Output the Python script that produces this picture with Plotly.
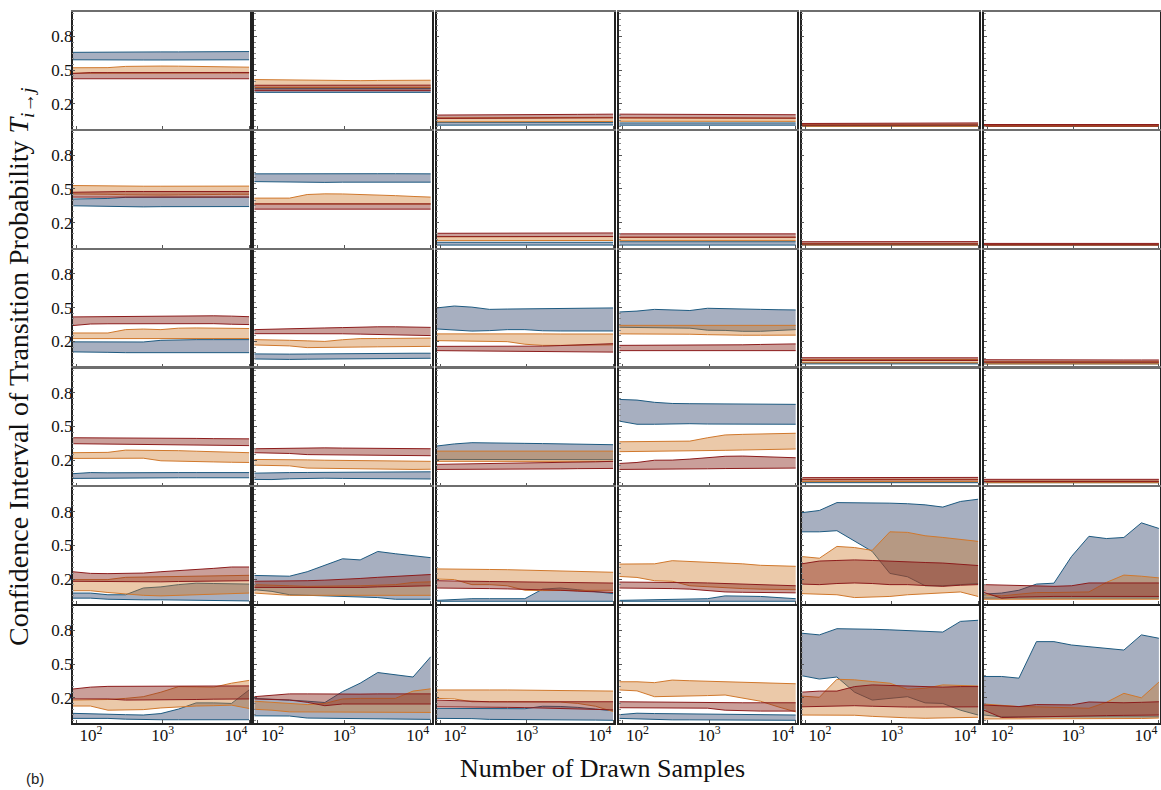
import plotly.graph_objects as go

# ---------------- data ----------------
N = [91, 146, 233, 373, 597, 955, 1528, 2443, 3908, 6252, 10000]
Y_TICKS = [0.2, 0.5, 0.8]
Y_TICK_TEXT = ["0.2", "0.5", "0.8"]
X_TICKS = [100, 1000, 10000]
X_TICK_TEXT = ["10<sup>2</sup>", "10<sup>3</sup>", "10<sup>4</sup>"]
# where the decade labels sit under each bottom panel (pulled inward as in the figure)
X_LABEL_AT = [148, 1000, 7070]
SERIES = ["blue", "orange", "red"]

# each panel: series -> (lower bound, upper bound)
R1C1 = {
    "blue": ([0.592, 0.590, 0.590, 0.590, 0.590, 0.590, 0.590, 0.590, 0.590, 0.591, 0.592],
             [0.658, 0.660, 0.662, 0.662, 0.662, 0.662, 0.662, 0.662, 0.663, 0.664, 0.665]),
    "orange": ([0.472, 0.472, 0.473, 0.474, 0.474, 0.474, 0.474, 0.474, 0.474, 0.474, 0.474],
               [0.521, 0.521, 0.522, 0.533, 0.536, 0.536, 0.535, 0.533, 0.531, 0.528, 0.526]),
    "red": ([0.423, 0.423, 0.423, 0.423, 0.423, 0.423, 0.423, 0.423, 0.423, 0.423, 0.423],
            [0.470, 0.478, 0.478, 0.479, 0.479, 0.479, 0.479, 0.479, 0.479, 0.479, 0.479]),
}
R1C2 = {
    "blue": ([0.302, 0.302, 0.302, 0.302, 0.302, 0.302, 0.302, 0.302, 0.302, 0.302, 0.302],
             [0.335, 0.335, 0.336, 0.336, 0.336, 0.336, 0.336, 0.336, 0.336, 0.336, 0.336]),
    "orange": ([0.345, 0.345, 0.345, 0.345, 0.345, 0.345, 0.345, 0.345, 0.345, 0.345, 0.345],
               [0.416, 0.414, 0.410, 0.406, 0.405, 0.405, 0.406, 0.408, 0.410, 0.410, 0.410]),
    "red": ([0.317, 0.317, 0.317, 0.317, 0.317, 0.317, 0.317, 0.317, 0.317, 0.317, 0.317],
            [0.365, 0.365, 0.366, 0.366, 0.366, 0.366, 0.366, 0.366, 0.366, 0.366, 0.366]),
}
R1C3 = {
    "blue": ([0.010, 0.010, 0.011, 0.011, 0.012, 0.012, 0.012, 0.012, 0.012, 0.012, 0.012],
             [0.035, 0.035, 0.034, 0.034, 0.034, 0.034, 0.035, 0.035, 0.035, 0.035, 0.035]),
    "orange": ([0.040, 0.040, 0.041, 0.041, 0.042, 0.042, 0.042, 0.043, 0.043, 0.043, 0.043],
               [0.075, 0.075, 0.076, 0.076, 0.077, 0.077, 0.078, 0.078, 0.078, 0.079, 0.079]),
    "red": ([0.070, 0.070, 0.071, 0.072, 0.072, 0.073, 0.073, 0.074, 0.074, 0.075, 0.075],
            [0.100, 0.100, 0.101, 0.102, 0.103, 0.104, 0.105, 0.106, 0.106, 0.107, 0.108]),
}
R1C4 = {
    "blue": ([0.010, 0.010, 0.010, 0.010, 0.010, 0.010, 0.010, 0.010, 0.010, 0.010, 0.010],
             [0.030, 0.030, 0.030, 0.030, 0.030, 0.030, 0.030, 0.030, 0.030, 0.030, 0.030]),
    "orange": ([0.045, 0.045, 0.045, 0.045, 0.045, 0.044, 0.044, 0.044, 0.044, 0.044, 0.044],
               [0.075, 0.075, 0.075, 0.075, 0.074, 0.074, 0.074, 0.074, 0.073, 0.073, 0.073]),
    "red": ([0.075, 0.075, 0.075, 0.074, 0.074, 0.074, 0.073, 0.073, 0.073, 0.072, 0.072],
            [0.108, 0.107, 0.107, 0.106, 0.106, 0.105, 0.105, 0.104, 0.104, 0.103, 0.103]),
}
R1C5 = {
    "blue": ([0.000, 0.000, 0.000, 0.000, 0.000, 0.000, 0.000, 0.000, 0.000, 0.000, 0.000],
             [0.008, 0.008, 0.008, 0.008, 0.008, 0.008, 0.008, 0.008, 0.008, 0.008, 0.008]),
    "orange": ([0.000, 0.000, 0.000, 0.000, 0.000, 0.000, 0.000, 0.000, 0.000, 0.000, 0.000],
               [0.018, 0.018, 0.018, 0.018, 0.018, 0.018, 0.018, 0.018, 0.018, 0.019, 0.019]),
    "red": ([0.010, 0.010, 0.010, 0.010, 0.010, 0.010, 0.010, 0.010, 0.011, 0.011, 0.011],
            [0.025, 0.025, 0.025, 0.026, 0.026, 0.026, 0.027, 0.027, 0.028, 0.029, 0.030]),
}
R1C6 = {
    "blue": ([0.000, 0.000, 0.000, 0.000, 0.000, 0.000, 0.000, 0.000, 0.000, 0.000, 0.000],
             [0.004, 0.004, 0.004, 0.004, 0.004, 0.004, 0.004, 0.004, 0.004, 0.004, 0.004]),
    "orange": ([0.000, 0.000, 0.000, 0.000, 0.000, 0.000, 0.000, 0.000, 0.000, 0.000, 0.000],
               [0.008, 0.008, 0.008, 0.008, 0.008, 0.008, 0.008, 0.008, 0.008, 0.008, 0.008]),
    "red": ([0.002, 0.002, 0.002, 0.002, 0.002, 0.002, 0.002, 0.002, 0.002, 0.002, 0.002],
            [0.016, 0.016, 0.016, 0.016, 0.016, 0.016, 0.016, 0.016, 0.016, 0.016, 0.016]),
}
R2C1 = {
    "blue": ([0.350, 0.346, 0.342, 0.340, 0.340, 0.342, 0.343, 0.343, 0.343, 0.343, 0.343],
             [0.410, 0.410, 0.415, 0.425, 0.427, 0.427, 0.427, 0.427, 0.427, 0.427, 0.427]),
    "orange": ([0.455, 0.455, 0.452, 0.448, 0.445, 0.445, 0.447, 0.450, 0.450, 0.452, 0.452],
               [0.530, 0.527, 0.525, 0.525, 0.524, 0.524, 0.524, 0.524, 0.525, 0.525, 0.525]),
    "red": ([0.427, 0.427, 0.427, 0.427, 0.427, 0.427, 0.427, 0.427, 0.427, 0.427, 0.427],
            [0.470, 0.474, 0.477, 0.477, 0.477, 0.477, 0.477, 0.477, 0.477, 0.477, 0.477]),
}
R2C2 = {
    "blue": ([0.565, 0.562, 0.560, 0.558, 0.558, 0.560, 0.560, 0.560, 0.560, 0.560, 0.560],
             [0.634, 0.635, 0.635, 0.635, 0.635, 0.635, 0.635, 0.635, 0.635, 0.635, 0.634]),
    "orange": ([0.365, 0.365, 0.365, 0.365, 0.365, 0.365, 0.365, 0.365, 0.365, 0.365, 0.365],
               [0.418, 0.418, 0.418, 0.450, 0.456, 0.455, 0.452, 0.448, 0.440, 0.433, 0.427]),
    "red": ([0.320, 0.320, 0.320, 0.320, 0.320, 0.320, 0.320, 0.320, 0.320, 0.320, 0.320],
            [0.367, 0.367, 0.367, 0.367, 0.367, 0.367, 0.367, 0.367, 0.367, 0.367, 0.367]),
}
R2C3 = {
    "blue": ([0.000, 0.000, 0.000, 0.000, 0.000, 0.000, 0.000, 0.000, 0.000, 0.000, 0.000],
             [0.025, 0.025, 0.025, 0.025, 0.025, 0.025, 0.025, 0.025, 0.025, 0.025, 0.025]),
    "orange": ([0.040, 0.040, 0.040, 0.041, 0.041, 0.041, 0.041, 0.041, 0.041, 0.041, 0.041],
               [0.075, 0.075, 0.075, 0.076, 0.076, 0.076, 0.076, 0.076, 0.076, 0.076, 0.076]),
    "red": ([0.075, 0.075, 0.075, 0.076, 0.076, 0.076, 0.076, 0.076, 0.076, 0.076, 0.076],
            [0.105, 0.105, 0.106, 0.106, 0.107, 0.107, 0.108, 0.108, 0.108, 0.108, 0.108]),
}
R2C4 = {
    "blue": ([0.000, 0.000, 0.000, 0.000, 0.000, 0.000, 0.000, 0.000, 0.000, 0.000, 0.000],
             [0.030, 0.030, 0.030, 0.030, 0.030, 0.030, 0.030, 0.030, 0.030, 0.030, 0.030]),
    "orange": ([0.040, 0.040, 0.040, 0.040, 0.040, 0.040, 0.040, 0.040, 0.040, 0.040, 0.040],
               [0.070, 0.070, 0.070, 0.070, 0.070, 0.070, 0.070, 0.070, 0.070, 0.070, 0.070]),
    "red": ([0.070, 0.070, 0.070, 0.070, 0.070, 0.070, 0.070, 0.070, 0.070, 0.070, 0.070],
            [0.100, 0.100, 0.100, 0.101, 0.101, 0.101, 0.101, 0.101, 0.101, 0.101, 0.100]),
}
R2C5 = {
    "blue": ([0.000, 0.000, 0.000, 0.000, 0.000, 0.000, 0.000, 0.000, 0.000, 0.000, 0.000],
             [0.005, 0.005, 0.005, 0.005, 0.005, 0.005, 0.005, 0.005, 0.005, 0.005, 0.005]),
    "orange": ([0.000, 0.000, 0.000, 0.000, 0.000, 0.000, 0.000, 0.000, 0.000, 0.000, 0.000],
               [0.015, 0.015, 0.015, 0.015, 0.015, 0.015, 0.015, 0.015, 0.015, 0.015, 0.015]),
    "red": ([0.010, 0.010, 0.010, 0.010, 0.010, 0.010, 0.010, 0.010, 0.010, 0.010, 0.010],
            [0.030, 0.030, 0.030, 0.030, 0.030, 0.030, 0.030, 0.030, 0.030, 0.031, 0.031]),
}
R2C6 = {
    "blue": ([0.000, 0.000, 0.000, 0.000, 0.000, 0.000, 0.000, 0.000, 0.000, 0.000, 0.000],
             [0.004, 0.004, 0.004, 0.004, 0.004, 0.004, 0.004, 0.004, 0.004, 0.004, 0.004]),
    "orange": ([0.000, 0.000, 0.000, 0.000, 0.000, 0.000, 0.000, 0.000, 0.000, 0.000, 0.000],
               [0.008, 0.008, 0.008, 0.008, 0.008, 0.008, 0.008, 0.008, 0.008, 0.008, 0.008]),
    "red": ([0.002, 0.002, 0.002, 0.002, 0.002, 0.002, 0.002, 0.002, 0.002, 0.002, 0.002],
            [0.015, 0.015, 0.015, 0.015, 0.015, 0.015, 0.015, 0.015, 0.015, 0.015, 0.015]),
}
R3C1 = {
    "blue": ([0.107, 0.107, 0.103, 0.100, 0.100, 0.102, 0.098, 0.098, 0.100, 0.100, 0.100],
             [0.196, 0.196, 0.195, 0.193, 0.195, 0.210, 0.215, 0.216, 0.216, 0.216, 0.216]),
    "orange": ([0.225, 0.225, 0.225, 0.225, 0.225, 0.226, 0.226, 0.226, 0.226, 0.226, 0.226],
               [0.275, 0.275, 0.275, 0.305, 0.310, 0.305, 0.318, 0.320, 0.320, 0.318, 0.315]),
    "red": ([0.341, 0.355, 0.357, 0.357, 0.357, 0.358, 0.358, 0.360, 0.358, 0.353, 0.350],
            [0.418, 0.420, 0.422, 0.423, 0.425, 0.428, 0.430, 0.430, 0.428, 0.425, 0.420]),
}
R3C2 = {
    "blue": ([0.044, 0.040, 0.040, 0.042, 0.043, 0.045, 0.046, 0.047, 0.048, 0.049, 0.050],
             [0.089, 0.085, 0.087, 0.088, 0.090, 0.091, 0.092, 0.093, 0.094, 0.095, 0.095]),
    "orange": ([0.169, 0.165, 0.160, 0.145, 0.145, 0.147, 0.150, 0.152, 0.154, 0.155, 0.156],
               [0.216, 0.215, 0.210, 0.205, 0.200, 0.215, 0.225, 0.226, 0.228, 0.230, 0.230]),
    "red": ([0.269, 0.270, 0.270, 0.270, 0.270, 0.268, 0.265, 0.262, 0.258, 0.255, 0.252],
            [0.305, 0.310, 0.315, 0.318, 0.320, 0.323, 0.328, 0.330, 0.330, 0.328, 0.325]),
}
R3C3 = {
    "blue": ([0.311, 0.300, 0.292, 0.296, 0.305, 0.305, 0.295, 0.293, 0.293, 0.293, 0.293],
             [0.498, 0.515, 0.505, 0.485, 0.488, 0.490, 0.495, 0.497, 0.498, 0.497, 0.498]),
    "orange": ([0.207, 0.205, 0.203, 0.200, 0.198, 0.175, 0.165, 0.165, 0.167, 0.168, 0.170],
               [0.267, 0.268, 0.268, 0.268, 0.268, 0.267, 0.267, 0.266, 0.266, 0.266, 0.266]),
    "red": ([0.118, 0.117, 0.115, 0.114, 0.112, 0.110, 0.108, 0.107, 0.106, 0.105, 0.105],
            [0.156, 0.156, 0.156, 0.156, 0.156, 0.157, 0.158, 0.163, 0.170, 0.176, 0.180]),
}
R3C4 = {
    "blue": ([0.326, 0.322, 0.320, 0.320, 0.318, 0.300, 0.298, 0.290, 0.290, 0.300, 0.305],
             [0.462, 0.470, 0.485, 0.478, 0.475, 0.495, 0.490, 0.485, 0.485, 0.482, 0.480]),
    "orange": ([0.267, 0.267, 0.266, 0.265, 0.264, 0.260, 0.256, 0.255, 0.255, 0.256, 0.256],
               [0.343, 0.343, 0.343, 0.343, 0.343, 0.343, 0.343, 0.343, 0.343, 0.343, 0.343]),
    "red": ([0.118, 0.118, 0.118, 0.118, 0.118, 0.118, 0.118, 0.118, 0.118, 0.118, 0.118],
            [0.165, 0.165, 0.165, 0.165, 0.165, 0.165, 0.167, 0.170, 0.173, 0.176, 0.178]),
}
R3C5 = {
    "blue": ([0.000, 0.000, 0.000, 0.000, 0.000, 0.000, 0.000, 0.000, 0.000, 0.000, 0.000],
             [0.010, 0.010, 0.010, 0.010, 0.010, 0.010, 0.010, 0.010, 0.010, 0.010, 0.010]),
    "orange": ([0.010, 0.010, 0.010, 0.010, 0.010, 0.010, 0.010, 0.010, 0.010, 0.010, 0.010],
               [0.040, 0.040, 0.040, 0.040, 0.040, 0.040, 0.040, 0.040, 0.040, 0.039, 0.039]),
    "red": ([0.030, 0.030, 0.030, 0.030, 0.030, 0.030, 0.030, 0.030, 0.030, 0.030, 0.030],
            [0.055, 0.055, 0.056, 0.056, 0.057, 0.057, 0.057, 0.057, 0.056, 0.055, 0.054]),
}
R3C6 = {
    "blue": ([0.000, 0.000, 0.000, 0.000, 0.000, 0.000, 0.000, 0.000, 0.000, 0.000, 0.000],
             [0.008, 0.008, 0.008, 0.008, 0.008, 0.008, 0.008, 0.008, 0.008, 0.008, 0.008]),
    "orange": ([0.000, 0.000, 0.000, 0.000, 0.000, 0.000, 0.000, 0.000, 0.000, 0.000, 0.000],
               [0.020, 0.020, 0.020, 0.020, 0.020, 0.020, 0.020, 0.020, 0.020, 0.020, 0.020]),
    "red": ([0.015, 0.015, 0.015, 0.015, 0.015, 0.015, 0.015, 0.015, 0.015, 0.015, 0.015],
            [0.037, 0.036, 0.035, 0.035, 0.035, 0.035, 0.035, 0.035, 0.035, 0.035, 0.035]),
}
R4C1 = {
    "blue": ([0.038, 0.040, 0.040, 0.042, 0.043, 0.044, 0.044, 0.044, 0.044, 0.044, 0.044],
             [0.080, 0.090, 0.088, 0.087, 0.090, 0.090, 0.090, 0.090, 0.090, 0.090, 0.090]),
    "orange": ([0.216, 0.216, 0.217, 0.218, 0.218, 0.195, 0.190, 0.188, 0.185, 0.182, 0.180],
               [0.267, 0.268, 0.270, 0.290, 0.290, 0.288, 0.285, 0.280, 0.275, 0.270, 0.267]),
    "red": ([0.347, 0.345, 0.342, 0.342, 0.342, 0.340, 0.338, 0.336, 0.334, 0.332, 0.330],
            [0.400, 0.400, 0.400, 0.400, 0.400, 0.398, 0.396, 0.394, 0.392, 0.390, 0.390]),
}
R4C2 = {
    "blue": ([0.029, 0.028, 0.035, 0.040, 0.040, 0.038, 0.036, 0.035, 0.034, 0.033, 0.033],
             [0.085, 0.090, 0.090, 0.091, 0.092, 0.093, 0.094, 0.095, 0.096, 0.097, 0.097]),
    "orange": ([0.156, 0.155, 0.150, 0.130, 0.128, 0.125, 0.120, 0.117, 0.117, 0.118, 0.120],
               [0.207, 0.207, 0.205, 0.203, 0.200, 0.198, 0.196, 0.194, 0.193, 0.192, 0.190]),
    "red": ([0.267, 0.265, 0.260, 0.250, 0.248, 0.246, 0.245, 0.244, 0.243, 0.242, 0.240],
            [0.302, 0.305, 0.310, 0.310, 0.310, 0.308, 0.306, 0.304, 0.302, 0.302, 0.302]),
}
R4C3 = {
    "blue": ([0.207, 0.207, 0.205, 0.205, 0.205, 0.205, 0.205, 0.205, 0.205, 0.205, 0.205],
             [0.326, 0.345, 0.356, 0.352, 0.350, 0.350, 0.348, 0.345, 0.342, 0.340, 0.338]),
    "orange": ([0.190, 0.190, 0.190, 0.190, 0.190, 0.190, 0.190, 0.190, 0.190, 0.190, 0.190],
               [0.281, 0.281, 0.282, 0.282, 0.282, 0.282, 0.282, 0.282, 0.281, 0.281, 0.281]),
    "red": ([0.118, 0.118, 0.118, 0.118, 0.118, 0.120, 0.122, 0.123, 0.125, 0.126, 0.127],
            [0.163, 0.165, 0.167, 0.170, 0.172, 0.175, 0.178, 0.180, 0.183, 0.186, 0.190]),
}
R4C4 = {
    "blue": ([0.548, 0.520, 0.520, 0.525, 0.525, 0.522, 0.522, 0.522, 0.522, 0.520, 0.520],
             [0.741, 0.735, 0.715, 0.705, 0.703, 0.702, 0.702, 0.700, 0.700, 0.700, 0.697]),
    "orange": ([0.276, 0.277, 0.278, 0.280, 0.282, 0.285, 0.288, 0.291, 0.294, 0.297, 0.300],
               [0.364, 0.365, 0.366, 0.368, 0.370, 0.400, 0.425, 0.430, 0.435, 0.438, 0.440]),
    "red": ([0.118, 0.118, 0.120, 0.120, 0.122, 0.124, 0.126, 0.127, 0.128, 0.129, 0.130],
            [0.171, 0.180, 0.200, 0.201, 0.210, 0.222, 0.235, 0.237, 0.232, 0.225, 0.222]),
}
R4C5 = {
    "blue": ([0.000, 0.000, 0.000, 0.000, 0.000, 0.000, 0.000, 0.000, 0.000, 0.000, 0.000],
             [0.008, 0.008, 0.008, 0.008, 0.008, 0.008, 0.008, 0.008, 0.008, 0.008, 0.008]),
    "orange": ([0.010, 0.010, 0.010, 0.010, 0.010, 0.010, 0.010, 0.010, 0.010, 0.010, 0.010],
               [0.030, 0.030, 0.030, 0.030, 0.030, 0.030, 0.030, 0.030, 0.030, 0.030, 0.030]),
    "red": ([0.025, 0.025, 0.025, 0.025, 0.025, 0.025, 0.025, 0.025, 0.025, 0.025, 0.025],
            [0.045, 0.045, 0.045, 0.046, 0.046, 0.046, 0.046, 0.046, 0.046, 0.046, 0.047]),
}
R4C6 = {
    "blue": ([0.000, 0.000, 0.000, 0.000, 0.000, 0.000, 0.000, 0.000, 0.000, 0.000, 0.000],
             [0.005, 0.005, 0.005, 0.005, 0.005, 0.005, 0.005, 0.005, 0.005, 0.005, 0.005]),
    "orange": ([0.000, 0.000, 0.000, 0.000, 0.000, 0.000, 0.000, 0.000, 0.000, 0.000, 0.000],
               [0.015, 0.015, 0.015, 0.015, 0.015, 0.015, 0.015, 0.015, 0.015, 0.015, 0.015]),
    "red": ([0.010, 0.010, 0.010, 0.010, 0.010, 0.010, 0.010, 0.010, 0.010, 0.010, 0.010],
            [0.030, 0.030, 0.030, 0.030, 0.030, 0.030, 0.030, 0.030, 0.030, 0.030, 0.030]),
}
R5C1 = {
    "blue": ([0.030, 0.030, 0.020, 0.015, 0.015, 0.015, 0.012, 0.010, 0.008, 0.005, 0.005],
             [0.075, 0.075, 0.060, 0.060, 0.120, 0.130, 0.150, 0.163, 0.160, 0.155, 0.155]),
    "orange": ([0.096, 0.096, 0.080, 0.065, 0.055, 0.050, 0.055, 0.060, 0.065, 0.070, 0.075],
               [0.195, 0.195, 0.195, 0.215, 0.218, 0.220, 0.225, 0.230, 0.232, 0.233, 0.233]),
    "red": ([0.180, 0.178, 0.175, 0.175, 0.175, 0.175, 0.178, 0.180, 0.182, 0.185, 0.185],
            [0.265, 0.250, 0.248, 0.250, 0.253, 0.265, 0.275, 0.280, 0.295, 0.307, 0.307]),
}
R5C2 = {
    "blue": ([0.105, 0.090, 0.060, 0.055, 0.055, 0.050, 0.045, 0.035, 0.020, 0.020, 0.020],
             [0.232, 0.230, 0.225, 0.265, 0.325, 0.380, 0.370, 0.445, 0.425, 0.410, 0.390]),
    "orange": ([0.075, 0.065, 0.055, 0.055, 0.055, 0.055, 0.055, 0.055, 0.055, 0.055, 0.055],
               [0.150, 0.148, 0.140, 0.135, 0.135, 0.138, 0.140, 0.145, 0.150, 0.170, 0.175]),
    "red": ([0.125, 0.125, 0.120, 0.120, 0.120, 0.122, 0.125, 0.130, 0.133, 0.137, 0.140],
            [0.180, 0.180, 0.182, 0.185, 0.190, 0.195, 0.205, 0.215, 0.225, 0.235, 0.240]),
}
R5C3 = {
    "blue": ([0.002, 0.002, 0.002, 0.002, 0.002, 0.002, 0.002, 0.002, 0.002, 0.002, 0.002],
             [0.010, 0.020, 0.025, 0.025, 0.025, 0.025, 0.110, 0.120, 0.105, 0.085, 0.070]),
    "orange": ([0.200, 0.195, 0.150, 0.150, 0.140, 0.100, 0.097, 0.097, 0.098, 0.100, 0.100],
               [0.290, 0.290, 0.288, 0.285, 0.283, 0.280, 0.275, 0.270, 0.265, 0.262, 0.260]),
    "red": ([0.120, 0.120, 0.118, 0.115, 0.112, 0.110, 0.105, 0.100, 0.092, 0.085, 0.080],
            [0.185, 0.185, 0.180, 0.178, 0.175, 0.172, 0.170, 0.168, 0.166, 0.165, 0.164]),
}
R5C4 = {
    "blue": ([0.002, 0.002, 0.002, 0.002, 0.002, 0.002, 0.002, 0.002, 0.002, 0.002, 0.002],
             [0.010, 0.012, 0.015, 0.018, 0.020, 0.025, 0.050, 0.050, 0.045, 0.035, 0.025]),
    "orange": ([0.223, 0.214, 0.185, 0.180, 0.140, 0.130, 0.120, 0.115, 0.110, 0.105, 0.105],
               [0.333, 0.333, 0.335, 0.363, 0.357, 0.352, 0.343, 0.335, 0.322, 0.318, 0.313]),
    "red": ([0.120, 0.120, 0.118, 0.115, 0.110, 0.100, 0.085, 0.082, 0.080, 0.078, 0.077],
            [0.173, 0.173, 0.172, 0.170, 0.168, 0.165, 0.160, 0.155, 0.150, 0.145, 0.140]),
}
R5C5 = {
    "blue": ([0.620, 0.620, 0.630, 0.535, 0.445, 0.250, 0.220, 0.140, 0.140, 0.150, 0.160],
             [0.790, 0.810, 0.880, 0.880, 0.875, 0.875, 0.870, 0.860, 0.840, 0.890, 0.910]),
    "orange": ([0.070, 0.065, 0.060, 0.035, 0.040, 0.045, 0.060, 0.070, 0.080, 0.085, 0.045],
               [0.400, 0.385, 0.490, 0.480, 0.455, 0.620, 0.615, 0.585, 0.570, 0.555, 0.535]),
    "red": ([0.155, 0.150, 0.160, 0.165, 0.160, 0.150, 0.150, 0.140, 0.135, 0.145, 0.150],
            [0.335, 0.360, 0.365, 0.370, 0.365, 0.357, 0.352, 0.347, 0.342, 0.330, 0.320]),
}
R5C6 = {
    "blue": ([0.030, 0.030, 0.030, 0.030, 0.030, 0.030, 0.028, 0.025, 0.025, 0.028, 0.030],
             [0.066, 0.075, 0.100, 0.155, 0.163, 0.400, 0.580, 0.560, 0.570, 0.700, 0.650]),
    "orange": ([0.020, 0.020, 0.020, 0.020, 0.020, 0.020, 0.020, 0.020, 0.020, 0.020, 0.020],
               [0.060, 0.050, 0.065, 0.080, 0.080, 0.080, 0.085, 0.170, 0.235, 0.225, 0.210]),
    "red": ([0.080, 0.030, 0.040, 0.045, 0.045, 0.045, 0.045, 0.045, 0.045, 0.045, 0.045],
            [0.150, 0.145, 0.140, 0.135, 0.135, 0.140, 0.165, 0.165, 0.165, 0.165, 0.165]),
}
R6C1 = {
    "blue": ([0.017, 0.017, 0.017, 0.010, 0.005, 0.005, 0.005, 0.005, 0.005, 0.005, 0.005],
             [0.062, 0.060, 0.055, 0.050, 0.047, 0.060, 0.100, 0.155, 0.155, 0.150, 0.270]),
    "orange": ([0.127, 0.127, 0.090, 0.093, 0.095, 0.110, 0.120, 0.127, 0.130, 0.135, 0.105],
               [0.180, 0.180, 0.185, 0.195, 0.210, 0.250, 0.300, 0.298, 0.295, 0.330, 0.355]),
    "red": ([0.190, 0.190, 0.190, 0.180, 0.180, 0.180, 0.182, 0.185, 0.188, 0.190, 0.190],
            [0.278, 0.295, 0.302, 0.303, 0.303, 0.303, 0.303, 0.303, 0.304, 0.305, 0.306]),
}
R6C2 = {
    "blue": ([0.040, 0.040, 0.038, 0.020, 0.018, 0.018, 0.020, 0.015, 0.010, 0.010, 0.008],
             [0.195, 0.190, 0.180, 0.170, 0.158, 0.255, 0.330, 0.425, 0.405, 0.385, 0.565]),
    "orange": ([0.098, 0.090, 0.075, 0.075, 0.075, 0.075, 0.075, 0.072, 0.072, 0.070, 0.070],
               [0.170, 0.160, 0.145, 0.140, 0.150, 0.190, 0.195, 0.195, 0.195, 0.260, 0.280]),
    "red": ([0.190, 0.185, 0.180, 0.160, 0.130, 0.145, 0.145, 0.145, 0.145, 0.145, 0.145],
            [0.210, 0.220, 0.235, 0.235, 0.233, 0.233, 0.233, 0.235, 0.235, 0.235, 0.235]),
}
R6C3 = {
    "blue": ([0.017, 0.017, 0.015, 0.008, 0.008, 0.006, 0.005, 0.004, 0.003, 0.002, 0.000],
             [0.106, 0.107, 0.106, 0.105, 0.104, 0.103, 0.125, 0.123, 0.115, 0.100, 0.085]),
    "orange": ([0.195, 0.190, 0.165, 0.165, 0.165, 0.165, 0.165, 0.162, 0.150, 0.125, 0.078],
               [0.270, 0.272, 0.272, 0.270, 0.270, 0.268, 0.267, 0.265, 0.263, 0.262, 0.260]),
    "red": ([0.120, 0.120, 0.118, 0.117, 0.115, 0.113, 0.110, 0.105, 0.100, 0.095, 0.093],
            [0.180, 0.175, 0.167, 0.165, 0.165, 0.165, 0.165, 0.165, 0.165, 0.165, 0.165]),
}
R6C4 = {
    "blue": ([0.017, 0.012, 0.006, 0.004, 0.004, 0.004, 0.004, 0.003, 0.002, 0.001, 0.000],
             [0.050, 0.063, 0.060, 0.058, 0.058, 0.056, 0.055, 0.053, 0.050, 0.048, 0.047]),
    "orange": ([0.270, 0.262, 0.210, 0.212, 0.215, 0.220, 0.225, 0.200, 0.170, 0.120, 0.075],
               [0.343, 0.343, 0.335, 0.358, 0.352, 0.348, 0.345, 0.340, 0.335, 0.330, 0.325]),
    "red": ([0.112, 0.112, 0.112, 0.110, 0.110, 0.108, 0.090, 0.083, 0.082, 0.082, 0.082],
            [0.165, 0.163, 0.160, 0.158, 0.157, 0.156, 0.156, 0.156, 0.156, 0.156, 0.156]),
}
R6C5 = {
    "blue": ([0.397, 0.367, 0.385, 0.250, 0.180, 0.195, 0.210, 0.155, 0.150, 0.090, 0.047],
             [0.775, 0.760, 0.815, 0.815, 0.810, 0.805, 0.800, 0.790, 0.785, 0.880, 0.890]),
    "orange": ([0.047, 0.047, 0.047, 0.045, 0.035, 0.027, 0.022, 0.018, 0.022, 0.025, 0.027],
               [0.215, 0.205, 0.365, 0.360, 0.345, 0.330, 0.275, 0.285, 0.315, 0.310, 0.305]),
    "red": ([0.120, 0.125, 0.128, 0.130, 0.125, 0.120, 0.118, 0.118, 0.120, 0.120, 0.120],
            [0.250, 0.260, 0.260, 0.300, 0.315, 0.310, 0.300, 0.295, 0.295, 0.300, 0.300]),
}
R6C6 = {
    "blue": ([0.047, 0.030, 0.030, 0.030, 0.030, 0.030, 0.030, 0.030, 0.030, 0.030, 0.030],
             [0.390, 0.390, 0.375, 0.700, 0.700, 0.670, 0.655, 0.640, 0.625, 0.760, 0.730]),
    "orange": ([0.012, 0.012, 0.012, 0.012, 0.012, 0.012, 0.012, 0.012, 0.014, 0.016, 0.020],
               [0.145, 0.135, 0.122, 0.120, 0.115, 0.110, 0.107, 0.160, 0.240, 0.200, 0.340]),
    "red": ([0.090, 0.025, 0.028, 0.032, 0.035, 0.038, 0.040, 0.042, 0.044, 0.046, 0.047],
            [0.136, 0.130, 0.122, 0.140, 0.140, 0.137, 0.163, 0.160, 0.156, 0.160, 0.165]),
}

PANELS = [
    [R1C1, R1C2, R1C3, R1C4, R1C5, R1C6],
    [R2C1, R2C2, R2C3, R2C4, R2C5, R2C6],
    [R3C1, R3C2, R3C3, R3C4, R3C5, R3C6],
    [R4C1, R4C2, R4C3, R4C4, R4C5, R4C6],
    [R5C1, R5C2, R5C3, R5C4, R5C5, R5C6],
    [R6C1, R6C2, R6C3, R6C4, R6C5, R6C6],
]

# ---------------- style ----------------
LINE = {"blue": "#1d5a80", "orange": "#d0782c", "red": "#8c1c1c"}
FILL = {"blue": "rgba(45,65,105,0.42)", "orange": "rgba(205,120,40,0.40)",
        "red": "rgba(140,45,35,0.46)"}

W, H = 1161, 790
COL_LEFT = [72.7, 254.3, 436.7, 619.3, 801.7, 984.0]
COL_W = 177.5
ROW_TOP = [12.0, 130.8, 249.6, 368.4, 487.2, 606.0]
ROW_H = 117.0
SERIF = "Liberation Serif, Times New Roman, serif"
X_RANGE = [1.96, 4.013]
Y_RANGE = [-0.024, 1.017]

fig = go.Figure()
layout = {}
for r in range(6):
    for c in range(6):
        k = r * 6 + c + 1
        xa = "x" if k == 1 else f"x{k}"
        ya = "y" if k == 1 else f"y{k}"
        panel = PANELS[r][c]
        for s in SERIES:
            lo, hi = panel[s]
            fig.add_trace(go.Scatter(x=N, y=lo, xaxis=xa, yaxis=ya, mode="lines",
                                     line=dict(color=LINE[s], width=1), showlegend=False,
                                     hoverinfo="skip"))
            fig.add_trace(go.Scatter(x=N, y=hi, xaxis=xa, yaxis=ya, mode="lines",
                                     line=dict(color=LINE[s], width=1), fill="tonexty",
                                     fillcolor=FILL[s], showlegend=False, hoverinfo="skip"))
        x0 = COL_LEFT[c] / W
        x1 = min(COL_LEFT[c] + COL_W, W - 1) / W
        y1 = 1 - ROW_TOP[r] / H
        y0 = 1 - (ROW_TOP[r] + ROW_H) / H
        xkey = "xaxis" if k == 1 else f"xaxis{k}"
        ykey = "yaxis" if k == 1 else f"yaxis{k}"
        layout[xkey] = dict(domain=[x0, x1], anchor=ya, type="log", range=X_RANGE,
                            tickvals=X_TICKS, showticklabels=False,
                            ticks="inside", ticklen=3,
                            tickcolor="#555", showgrid=False, zeroline=False,
                            showline=True, mirror=True,
                            linecolor=("#222" if r == 5 else "#6e6e6e"), linewidth=1.8)
        layout[ykey] = dict(domain=[y0, y1], anchor=xa, range=Y_RANGE,
                            tickvals=Y_TICKS, ticktext=Y_TICK_TEXT,
                            showticklabels=(c == 0), ticks="inside", ticklen=3,
                            ticklabelstandoff=-5,
                            tickcolor="#555", showgrid=False, zeroline=False,
                            showline=True, mirror=True, linecolor="#222", linewidth=1.5,
                            minor=dict(ticks="inside", ticklen=2, dtick=0.05, tick0=0,
                                       tickcolor="#888", showgrid=False),
                            tickfont=dict(family=SERIF, size=17, color="#111"))
        # label-only axis under the bottom row, decade labels pulled inward
        if r == 5:
            kk = 36 + c + 1
            fig.add_trace(go.Scatter(x=[None], y=[None], xaxis=f"x{kk}", yaxis=ya,
                                     mode="lines", showlegend=False, hoverinfo="skip"))
            layout[f"xaxis{kk}"] = dict(overlaying=xa, anchor=ya, side="bottom", type="log",
                                        range=X_RANGE, tickvals=X_LABEL_AT,
                                        ticktext=X_TICK_TEXT, ticks="", showline=False,
                                        showgrid=False, zeroline=False,
                                        tickfont=dict(family=SERIF, size=17, color="#111"))

fig.update_layout(**layout)
fig.update_layout(
    width=W, height=H, margin=dict(l=0, r=0, t=0, b=0),
    paper_bgcolor="white", plot_bgcolor="white",
    annotations=[
        dict(text="Number of Drawn Samples", x=602 / W, y=1 - 768 / H, xref="paper",
             yref="paper", showarrow=False, xanchor="center", yanchor="middle",
             font=dict(family=SERIF, size=26, color="#111")),
        dict(text="Confidence Interval of Transition Probability <i>T</i><sub><i>i</i>→<i>j</i></sub>",
             x=20 / W, y=1 - 367 / H, xref="paper", yref="paper", showarrow=False,
             textangle=-90, xanchor="center", yanchor="middle",
             font=dict(family=SERIF, size=28, color="#111")),
        dict(text="(b)", x=35 / W, y=1 - 778 / H, xref="paper", yref="paper",
             showarrow=False, xanchor="center", yanchor="middle",
             font=dict(family="Liberation Sans, Arial, sans-serif", size=15, color="#222")),
    ],
)

fig.write_html("out.html")
